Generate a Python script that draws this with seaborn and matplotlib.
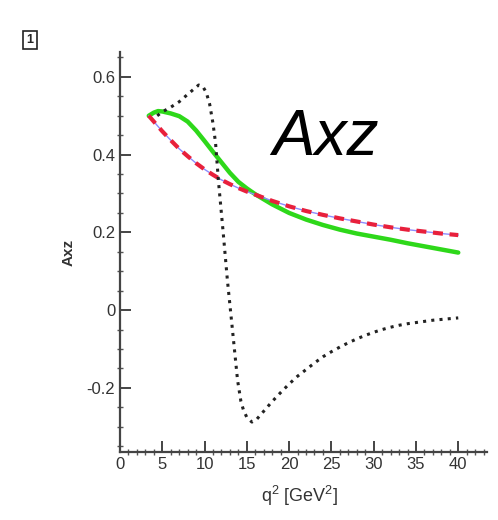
import numpy as np
import pandas as pd
import matplotlib
matplotlib.use('Agg')
import matplotlib.pyplot as plt
from matplotlib.ticker import MultipleLocator, FixedLocator, FixedFormatter
import seaborn as sns

sns.set_style('ticks')
plt.rcParams['font.family'] = ['Liberation Sans', 'DejaVu Sans']
plt.rcParams['mathtext.default'] = 'regular'

# red dashed / blue thin curve
q2_red = [3.4, 4, 5, 6, 7, 8, 9, 10, 11, 12, 13, 14, 15, 16, 18, 20, 22, 24, 26, 28, 30, 32, 34, 36, 38, 40]
axz_red = [0.50, 0.485, 0.46, 0.437, 0.415, 0.396, 0.378, 0.362, 0.348, 0.335, 0.324, 0.314, 0.305,
           0.297, 0.281, 0.267, 0.255, 0.245, 0.236, 0.228, 0.220, 0.213, 0.207, 0.202, 0.197, 0.193]

# green solid curve
q2_green = [3.4, 4, 4.5, 5, 6, 7, 8, 9, 10, 11, 12, 13, 14, 15, 16, 17, 18, 20, 22, 24, 26, 28, 30,
            32, 34, 36, 38, 40]
axz_green = [0.50, 0.508, 0.512, 0.511, 0.506, 0.499, 0.485, 0.462, 0.435, 0.407, 0.38, 0.353, 0.33,
             0.313, 0.298, 0.285, 0.272, 0.25, 0.233, 0.219, 0.207, 0.197, 0.189, 0.181, 0.172, 0.164,
             0.156, 0.148]

# black dotted curve
q2_black = [4.4, 5, 6, 7, 8, 8.7, 9.3, 9.8, 10.2, 10.6, 11, 11.3, 11.65, 12.2, 12.7, 13.3, 13.9, 14.3,
            14.6, 15.0, 15.6, 16.2, 17, 18, 19, 20, 21, 22, 23, 24, 25, 26, 27, 28, 29, 30, 31, 32, 33,
            34, 35, 36, 37, 38, 39, 40]
axz_black = [0.50, 0.51, 0.522, 0.536, 0.555, 0.568, 0.579, 0.575, 0.56, 0.53, 0.48, 0.43, 0.33, 0.2,
             0.077, -0.051, -0.18, -0.235, -0.257, -0.276, -0.288, -0.28, -0.26, -0.235, -0.212, -0.19,
             -0.17, -0.153, -0.136, -0.12, -0.107, -0.095, -0.084, -0.074, -0.065, -0.057, -0.05,
             -0.044, -0.039, -0.035, -0.032, -0.029, -0.026, -0.024, -0.022, -0.02]

y_ticks = [-0.2, 0, 0.2, 0.4, 0.6]
y_labels = ['-0.2', '0', '0.2', '0.4', '0.6']

fig = plt.figure(figsize=(4.98, 5.2), dpi=100)
ax = fig.add_axes([120/498, 1-452/520, 367/498, 400/520])

sns.lineplot(x=q2_green, y=axz_green, ax=ax, color='#2ed81a', lw=3.2)
sns.lineplot(x=q2_red, y=axz_red, ax=ax, color='#8c8cff', lw=1.0)
sns.lineplot(x=q2_red, y=axz_red, ax=ax, color='#e8203c', lw=3.0, linestyle=(0, (2.4, 1.6)))
sns.lineplot(x=q2_black, y=axz_black, ax=ax, color='#222222', lw=2.2, linestyle=(0, (1, 1.7)))

ax.set_xlim(0, 43.4)
ax.set_ylim(-0.365, 0.664)
ax.xaxis.set_minor_locator(MultipleLocator(1))
ax.set_xticks(range(0, 45, 5))
ax.set_xticklabels([str(v) for v in range(0, 45, 5)])
ax.yaxis.set_major_locator(FixedLocator(y_ticks))
ax.yaxis.set_major_formatter(FixedFormatter(y_labels))
ax.yaxis.set_minor_locator(MultipleLocator(0.05))

sns.despine(ax=ax)
for s in ['left', 'bottom']:
    ax.spines[s].set_linewidth(1.6)
    ax.spines[s].set_color('#444444')
ax.tick_params(which='major', direction='in', length=8, width=1.4, color='#444444',
               labelsize=12, labelcolor='#333333')
ax.tick_params(which='minor', direction='inout', length=5, width=1.0, color='#555555')

ax.set_ylabel('Axz', fontsize=11, fontweight='bold', color='#333333')
ax.yaxis.set_label_coords(-0.12, 0.5)
ax.set_xlabel('q$^2$ [GeV$^2$]', fontsize=13, color='#333333')
ax.xaxis.set_label_coords(0.49, -0.08)

fig.text(325/498, 1-138/520, 'Axz', fontsize=46, style='italic', color='black',
         ha='center', va='center')
fig.text(30/498, 1-40/520, '1', fontsize=9, fontweight='bold', ha='center', va='center',
         bbox=dict(boxstyle='square,pad=0.25', fc='white', ec='#222222', lw=1.2))

plt.savefig('out.png', dpi=100)
